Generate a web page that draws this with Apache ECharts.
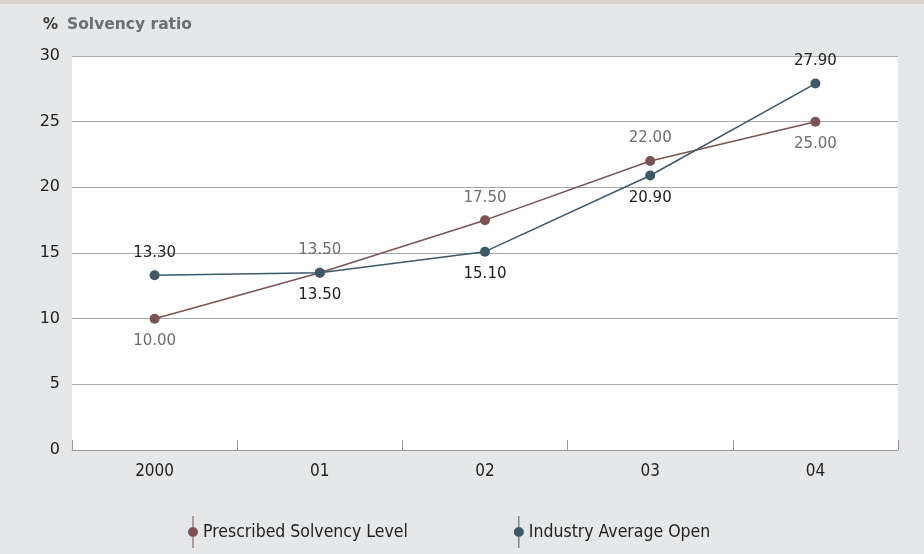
<!DOCTYPE html>
<html>
<head>
<meta charset="utf-8">
<script src="https://cdn.jsdelivr.net/npm/echarts@6/dist/echarts.min.js"></script>
<style>
	html, body { margin: 0; padding: 0; background: #e6e7e8; }
	#main { width: 924px; height: 550px; border-top: 4px solid #dbd6d1; }
</style>
</head>
<body>
<div id="main"></div>
<script type="text/javascript">
	// 数据
	var years = ['2000', '01', '02', '03', '04'];
	var prescribed = [10.00, 13.50, 17.50, 22.00, 25.00];
	var industry = [13.30, 13.50, 15.10, 20.90, 27.90];
	// 标签位置：上 / 下
	var prescribedPos = ['bottom', 'top', 'top', 'top', 'bottom'];
	var industryPos = ['top', 'bottom', 'bottom', 'bottom', 'top'];

	var colorP = '#7d5252';
	var colorI = '#3e5868';

	function buildData(vals, pos, color) {
		var out = [];
		for (var i = 0; i < vals.length; i++) {
			out.push({
				value: vals[i],
				label: { position: pos[i], color: color }
			});
		}
		return out;
	}

	var legendIcon = 'path://M4.5,0 L5.5,0 L5.5,32 L4.5,32 Z M5,11 A5,5 0 1,1 5,21 A5,5 0 1,1 5,11 Z';

	var myChart = echarts.init(document.getElementById('main'));

	var option = {
		backgroundColor: '#e6e7e8',
		animation: false,
		title: {
			text: '{p|%}{s|Solvency ratio}',
			left: 38,
			top: 8,
			textStyle: {
				rich: {
					p: { fontFamily: 'DejaVu Sans', fontSize: 15, fontWeight: 'bold', color: '#333', padding: [0, 9, 0, 0] },
					s: { fontFamily: 'DejaVu Sans', fontSize: 15.5, fontWeight: 'bold', color: '#6d6e70' }
				}
			}
		},
		grid: {
			left: 72,
			right: 26,
			top: 52,
			bottom: 104,
			show: true,
			backgroundColor: '#ffffff',
			borderWidth: 0
		},
		legend: {
			left: 183,
			top: 507,
			itemWidth: 10,
			itemHeight: 32,
			itemGap: 106,
			textStyle: { fontFamily: 'DejaVu Sans Condensed', fontSize: 17.5, color: '#222' },
			data: [
				{ name: 'Prescribed Solvency Level', icon: legendIcon },
				{ name: 'Industry Average Open', icon: legendIcon }
			]
		},
		xAxis: {
			type: 'category',
			data: years,
			boundaryGap: true,
			axisLine: { lineStyle: { color: '#999', width: 1 } },
			axisTick: { show: true, inside: true, length: 10, lineStyle: { color: '#999' } },
			axisLabel: { fontFamily: 'DejaVu Sans Condensed', fontSize: 17, color: '#222', margin: 13 }
		},
		yAxis: {
			type: 'value',
			min: 0,
			max: 30,
			interval: 5,
			axisLine: { show: false },
			axisTick: { show: false },
			axisLabel: { fontFamily: 'DejaVu Sans', fontSize: 16, color: '#222', margin: 12 },
			splitLine: { lineStyle: { color: '#a7a9ac', width: 1 } }
		},
		series: [
			{
				name: 'Prescribed Solvency Level',
				type: 'line',
				data: buildData(prescribed, prescribedPos, '#6d6e70'),
				symbol: 'circle',
				symbolSize: 10,
				itemStyle: { color: colorP },
				lineStyle: { color: colorP, width: 1.5 },
				label: {
					show: true,
					fontFamily: 'DejaVu Sans',
					fontSize: 15,
					distance: 10,
					formatter: function (p) { return p.value.toFixed(2); }
				}
			},
			{
				name: 'Industry Average Open',
				type: 'line',
				data: buildData(industry, industryPos, '#222'),
				symbol: 'circle',
				symbolSize: 10,
				itemStyle: { color: colorI },
				lineStyle: { color: colorI, width: 1.5 },
				label: {
					show: true,
					fontFamily: 'DejaVu Sans',
					fontSize: 15,
					distance: 10,
					formatter: function (p) { return p.value.toFixed(2); }
				}
			}
		]
	};

	myChart.setOption(option);
</script>
</body>
</html>
